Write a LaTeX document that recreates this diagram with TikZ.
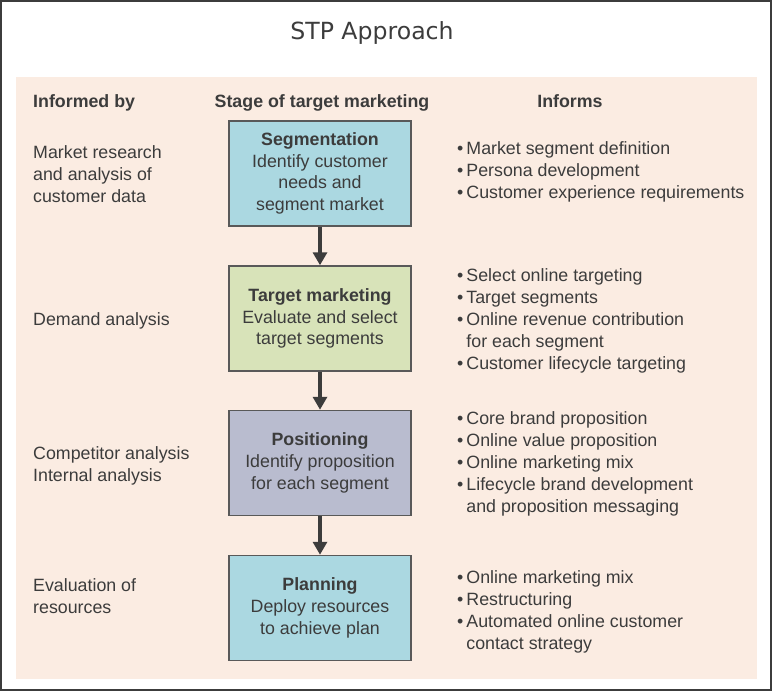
\documentclass[tikz,border=0pt]{standalone}
\usepackage{fontspec}
\setmainfont{Liberation Sans}
\newfontfamily\titlefont{DejaVu Sans}
\usetikzlibrary{arrows.meta}
\definecolor{inkgray}{HTML}{3C3C3C}
\definecolor{panelpeach}{HTML}{FBECE2}
\definecolor{stageblue}{HTML}{ABD8E1}
\definecolor{stagegreen}{HTML}{D8E3B9}
\definecolor{stagelilac}{HTML}{B9BCCF}
\tikzset{
  txt/.style={text=inkgray, inner sep=0pt, font=\fontsize{17.8}{22}\selectfont},
  head/.style={txt, font=\fontsize{17.8}{22}\selectfont\bfseries},
  stagebox/.style={rectangle, draw=inkgray!85, line width=1.5pt, minimum width=182pt,
    minimum height=105pt, align=center, text=inkgray, font=\fontsize{17.8}{21.7}\selectfont},
  flow/.style={draw=inkgray, line width=3.8pt, -{Triangle[width=14pt,length=13pt]}}
}
\newcommand{\stagehead}[1]{\textbf{#1}}
\begin{document}
\begin{tikzpicture}[x=1pt, y=-1pt]
  \useasboundingbox (0,0) rectangle (772,691);
  % Frame and panel
  \draw[inkgray, line width=2pt] (1,1) rectangle (771,690);
  \fill[panelpeach] (16,77) rectangle (757,679);
  \node (title) [anchor=base, text=inkgray, inner sep=0pt, font=\titlefont\fontsize{23.6}{28}\selectfont] at (372,39) {STP Approach};
  % Headers
  \node (hin) [head, anchor=base west] at (33,107) {Informed by};
  \node (hstage) [head, anchor=base] at (322,107) {Stage of target marketing};
  \node (hout) [head, anchor=base] at (570,107) {Informs};
  % Stages
  \node (seg) [stagebox, fill=stageblue] at (320,173.5) {\stagehead{Segmentation}\\Identify customer\\needs and\\segment market};
  \node (tgt) [stagebox, fill=stagegreen] at (320,318.5) {\stagehead{Target marketing}\\Evaluate and select\\target segments};
  \node (pos) [stagebox, fill=stagelilac] at (320,463) {\stagehead{Positioning}\\Identify proposition\\for each segment};
  \node (plan) [stagebox, fill=stageblue] at (320,608) {\stagehead{Planning}\\Deploy resources\\to achieve plan};
  % Arrows
  \draw[flow] (seg.south) -- (tgt.north);
  \draw[flow] (tgt.south) -- (pos.north);
  \draw[flow] (pos.south) -- (plan.north);
  % Informed by
  \node (in1) [txt, anchor=base west] at (33,158) {\begin{tabular}[t]{@{}l@{}}Market research\\and analysis of\\customer data\end{tabular}};
  \node (in2) [txt, anchor=base west] at (33,325) {Demand analysis};
  \node (in3) [txt, anchor=base west] at (33,459) {\begin{tabular}[t]{@{}l@{}}Competitor analysis\\Internal analysis\end{tabular}};
  \node (in4) [txt, anchor=base west] at (33,591) {\begin{tabular}[t]{@{}l@{}}Evaluation of\\resources\end{tabular}};
  % Informs
  \node (out1) [txt, anchor=base west] at (457,154) {\begin{tabular}[t]{@{}l@{\hspace{3pt}}l@{}}
    \textbullet & Market segment definition\\
    \textbullet & Persona development\\
    \textbullet & Customer experience requirements\end{tabular}};
  \node (out2) [txt, anchor=base west] at (457,281) {\begin{tabular}[t]{@{}l@{\hspace{3pt}}l@{}}
    \textbullet & Select online targeting\\
    \textbullet & Target segments\\
    \textbullet & Online revenue contribution\\
                & for each segment\\
    \textbullet & Customer lifecycle targeting\end{tabular}};
  \node (out3) [txt, anchor=base west] at (457,424) {\begin{tabular}[t]{@{}l@{\hspace{3pt}}l@{}}
    \textbullet & Core brand proposition\\
    \textbullet & Online value proposition\\
    \textbullet & Online marketing mix\\
    \textbullet & Lifecycle brand development\\
                & and proposition messaging\end{tabular}};
  \node (out4) [txt, anchor=base west] at (457,583) {\begin{tabular}[t]{@{}l@{\hspace{3pt}}l@{}}
    \textbullet & Online marketing mix\\
    \textbullet & Restructuring\\
    \textbullet & Automated online customer\\
                & contact strategy\end{tabular}};
\end{tikzpicture}
\end{document}
